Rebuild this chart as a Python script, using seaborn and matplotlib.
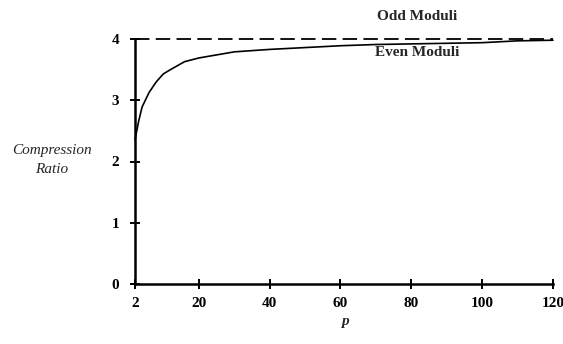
import matplotlib
matplotlib.use("Agg")
import matplotlib.pyplot as plt
import seaborn as sns
import pandas as pd

# Data
p_even = [2, 3, 4, 6, 8, 10, 12, 16, 20, 24, 30, 40, 50, 60, 70, 80, 90, 100, 110, 120]
ratio_even = [2.35, 2.65, 2.89, 3.13, 3.30, 3.43, 3.50, 3.63, 3.69, 3.73, 3.79, 3.83,
              3.86, 3.89, 3.91, 3.92, 3.93, 3.94, 3.97, 3.98]
p_odd = [2, 120]
ratio_odd = [4.0, 4.0]
x_ticks = [2, 20, 40, 60, 80, 100, 120]
y_ticks = [0, 1, 2, 3, 4]

sns.set_style("ticks")
plt.rcParams["font.family"] = ["Liberation Serif", "DejaVu Serif"]

fig = plt.figure(figsize=(5.63, 3.44), dpi=100)
ax = fig.add_axes([135/563, 1-284/344, 418/563, 245/344])

even = pd.DataFrame({"p": p_even, "ratio": ratio_even})
odd = pd.DataFrame({"p": p_odd, "ratio": ratio_odd})
sns.lineplot(data=even, x="p", y="ratio", ax=ax, color="black", lw=1.2)
sns.lineplot(data=odd, x="p", y="ratio", ax=ax, color="black", lw=1.3)
ax.lines[-1].set_dashes((8, 3.5))
for ln in ax.lines:
    ln.set_clip_on(False)

ax.set_xlim(2, 120)
ax.set_ylim(0, 4)
ax.set_xticks(x_ticks)
ax.set_xticklabels([str(t) for t in x_ticks], fontweight="bold")
ax.set_yticks(y_ticks)
ax.set_yticklabels([str(t) for t in y_ticks], fontweight="bold")
ax.set_xlabel("")
ax.set_ylabel("")
sns.despine(ax=ax)
for s in ["left", "bottom"]:
    ax.spines[s].set_linewidth(1.8)
    ax.spines[s].set_color("black")
ax.tick_params(axis="both", direction="inout", length=7, width=1.4,
               colors="black", labelsize=11, bottom=True, left=True)
ax.tick_params(axis="x", pad=6)
ax.tick_params(axis="y", pad=8)

fig.text(52/563, 1-160/344, "Compression\nRatio", ha="center", va="center",
         style="italic", fontsize=11, linespacing=1.6)
fig.text(345/563, 1-321/344, "p", ha="center", va="center",
         style="italic", fontsize=11, fontweight="bold")
fig.text(417/563, 1-16/344, "Odd Moduli", ha="center", va="center",
         fontsize=11, fontweight="bold")
fig.text(417/563, 1-53/344, "Even Moduli", ha="center", va="center",
         fontsize=11, fontweight="bold")

fig.savefig("out.png", dpi=100)
